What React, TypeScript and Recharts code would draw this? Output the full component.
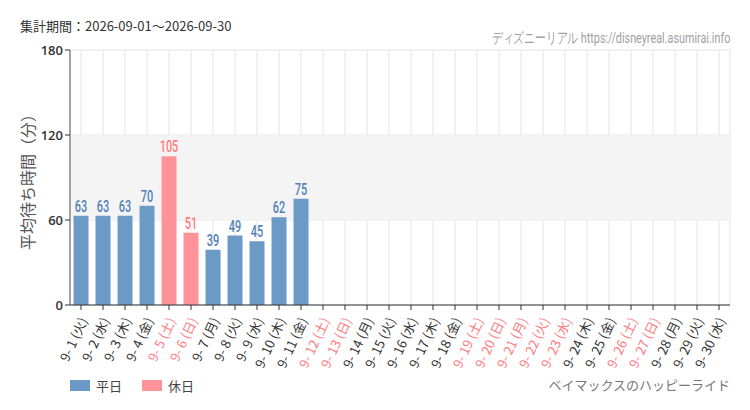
import React from 'react';
import { BarChart, Bar, XAxis, YAxis, CartesianGrid, ReferenceArea, Cell, LabelList } from 'recharts';

if (typeof document !== 'undefined') document.body.style.margin = '0';

const days = [
  '9-1', '9-2', '9-3', '9-4', '9-5', '9-6', '9-7', '9-8', '9-9', '9-10',
  '9-11', '9-12', '9-13', '9-14', '9-15', '9-16', '9-17', '9-18', '9-19', '9-20',
  '9-21', '9-22', '9-23', '9-24', '9-25', '9-26', '9-27', '9-28', '9-29', '9-30',
];
const weekdays = [
  '火', '水', '木', '金', '土', '日', '月', '火', '水', '木',
  '金', '土', '日', '月', '火', '水', '木', '金', '土', '日',
  '月', '火', '水', '木', '金', '土', '日', '月', '火', '水',
];
const holidays = [
  false, false, false, false, true, true, false, false, false, false,
  false, true, true, false, false, false, false, false, true, true,
  true, true, true, false, false, true, true, false, false, false,
];
const waits: (number | null)[] = [
  63, 63, 63, 70, 105, 51, 39, 49, 45, 62,
  75, null, null, null, null, null, null, null, null, null,
  null, null, null, null, null, null, null, null, null, null,
];
const yTicks = [0, 60, 120, 180];

const BLUE = '#6b9ac6';
const PINK = '#ff9398';
const BLUE_TEXT = '#4f80b6';
const PINK_TEXT = '#ff7a7f';
const JP = "'Noto Sans CJK JP', 'Noto Sans', sans-serif";

const data = days.map((d, i) => ({
  label: `${d.replace('-', '- ')} (${weekdays[i]})`,
  value: waits[i],
  holiday: holidays[i],
}));

const DayTick = (props: any) => {
  const { x, y, payload, index } = props;
  const hol = holidays[index];
  return (
    <g transform={`translate(${x + 2},${y + 6})`}>
      <text
        textAnchor="end"
        dominantBaseline="central"
        transform="rotate(-65)"
        fontSize={13}
        fontFamily={JP}
        fill={hol ? PINK_TEXT : '#333'}
      >
        {payload.value}
      </text>
    </g>
  );
};

const ValueLabel = (props: any) => {
  const { x, y, width, value, index } = props;
  if (value == null) return null;
  return (
    <text
      transform={`translate(${x + width / 2},${y - 4}) scale(0.68,1)`}
      textAnchor="middle"
      fontSize={16}
      fontWeight={500}
      fontFamily="Roboto, sans-serif"
      fill={holidays[index] ? PINK_TEXT : BLUE_TEXT}
    >
      {value}
    </text>
  );
};

const YTitle = () => (
  <text
    x={27}
    y={178}
    transform="rotate(-90,27,178)"
    textAnchor="middle"
    dominantBaseline="central"
    fontSize={16}
    fill="#555"
    fontFamily={JP}
  >
    平均待ち時間（分）
  </text>
);

export default function App() {
  return (
    <div style={{ position: 'relative', width: 750, height: 410, background: '#fff', fontFamily: JP }}>
      <div style={{ position: 'absolute', left: 20, top: 16, fontSize: 13, color: '#333' }}>
        集計期間：2026-09-01～2026-09-30
      </div>
      <div
        style={{
          position: 'absolute',
          right: 20,
          top: 29,
          fontSize: 15,
          color: '#a0a0a0',
          fontFamily: 'Roboto, sans-serif',
          whiteSpace: 'nowrap',
          transform: 'scaleX(0.72)',
          transformOrigin: 'right center',
        }}
      >
        ディズニーリアル https://disneyreal.asumirai.info
      </div>
      <BarChart
        width={750}
        height={410}
        data={data}
        margin={{ top: 50, right: 20, left: 30, bottom: 25 }}
        barCategoryGap="16%"
      >
        <ReferenceArea y1={60} y2={120} fill="#f4f4f4" fillOpacity={1} stroke="none" ifOverflow="visible" />
        <CartesianGrid stroke="#e4e4e4" />
        <XAxis
          dataKey="label"
          interval={0}
          height={80}
          tick={<DayTick />}
          tickLine={{ stroke: '#333' }}
          tickSize={5}
          axisLine={{ stroke: '#333' }}
        />
        <YAxis
          domain={[0, 180]}
          ticks={yTicks}
          width={40}
          tick={{ fill: '#333', fontSize: 13, fontFamily: "'Open Sans', sans-serif", fontWeight: 600 }}
          tickLine={{ stroke: '#333' }}
          tickSize={5}
          axisLine={{ stroke: '#555' }}
          label={<YTitle />}
        />
        <Bar dataKey="value" isAnimationActive={false}>
          {data.map((d, i) => (
            <Cell key={i} fill={d.holiday ? PINK : BLUE} />
          ))}
          <LabelList dataKey="value" content={<ValueLabel />} />
        </Bar>
      </BarChart>
      <div style={{ position: 'absolute', left: 70, top: 376, display: 'flex', alignItems: 'center', fontSize: 13, color: '#444' }}>
        <span style={{ display: 'inline-block', width: 20, height: 11, background: BLUE, marginRight: 6 }} />
        <span style={{ marginRight: 20 }}>平日</span>
        <span style={{ display: 'inline-block', width: 20, height: 11, background: PINK, marginRight: 6 }} />
        <span>休日</span>
      </div>
      <div style={{ position: 'absolute', right: 20, top: 375, fontSize: 13, color: '#777' }}>
        ベイマックスのハッピーライド
      </div>
    </div>
  );
}
